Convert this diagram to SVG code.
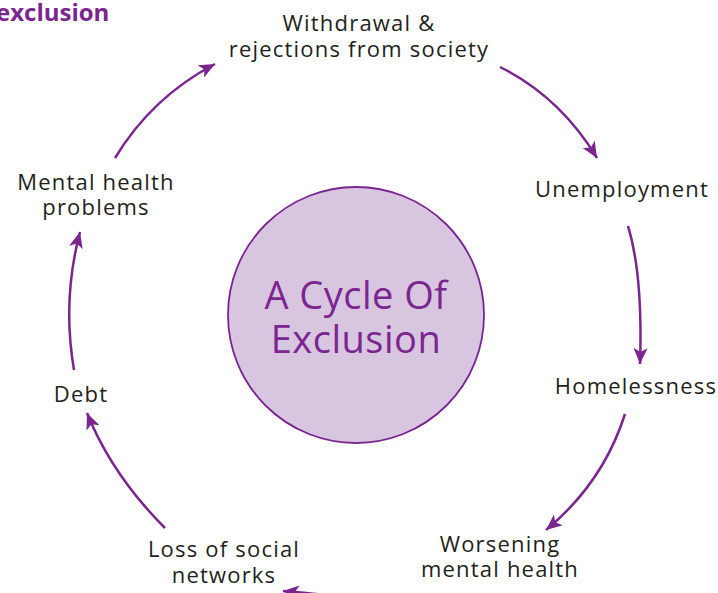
<svg xmlns="http://www.w3.org/2000/svg" width="718" height="593" viewBox="0 0 718 593">
  <defs>
    <style>
      .lbl { font-family: "Open Sans", "Noto Sans", "Liberation Sans", sans-serif; font-size: 22px; letter-spacing: 1.2px; fill: #231f20; text-anchor: middle; }
      .hub { font-family: "Open Sans", "Noto Sans", "Liberation Sans", sans-serif; font-size: 38px; letter-spacing: 0.5px; fill: #7b2590; text-anchor: middle; }
      .title { font-family: "Open Sans", "Noto Sans", "Liberation Sans", sans-serif; font-size: 24px; font-weight: bold; fill: #7b2590; }
      .arc { fill: none; stroke: #7b2590; stroke-width: 2.5; marker-end: url(#head); }
    </style>
    <marker id="head" markerUnits="userSpaceOnUse" markerWidth="20" markerHeight="16" refX="16" refY="7" orient="auto">
      <path d="M0,0 L16,7 L0,14 L4,7 Z" fill="#7b2590"/>
    </marker>
  </defs>

  <rect width="718" height="593" fill="#ffffff"/>

  <text class="title" x="-4" y="21">exclusion</text>

  <g id="hub">
    <circle cx="356" cy="315" r="128" fill="#d8c6e0" stroke="#7b2590" stroke-width="1.8"/>
    <text class="hub" x="356" y="309">A Cycle Of</text>
    <text class="hub" x="356" y="353">Exclusion</text>
  </g>

  <g id="withdrawal">
    <text class="lbl" x="359" y="31">Withdrawal &amp;</text>
    <text class="lbl" x="359" y="57">rejections from society</text>
  </g>
  <g id="unemployment">
    <text class="lbl" x="622" y="197">Unemployment</text>
  </g>
  <g id="homelessness">
    <text class="lbl" x="636" y="394">Homelessness</text>
  </g>
  <g id="worsening">
    <text class="lbl" x="500" y="552">Worsening</text>
    <text class="lbl" x="500" y="577">mental health</text>
  </g>
  <g id="loss">
    <text class="lbl" x="224" y="557">Loss of social</text>
    <text class="lbl" x="224" y="583">networks</text>
  </g>
  <g id="debt">
    <text class="lbl" x="81" y="402">Debt</text>
  </g>
  <g id="mental">
    <text class="lbl" x="96" y="190">Mental health</text>
    <text class="lbl" x="96" y="215">problems</text>
  </g>

  <g id="connectors">
    <path class="arc" d="M115,158 Q152,97 215,64"/>
    <path class="arc" d="M500,67 Q560,97 597,158"/>
    <path class="arc" d="M628,226 Q643,275 640,364"/>
    <path class="arc" d="M625,414 Q603,483 546,530"/>
    <path class="arc" d="M430,605 Q360,598 283,591"/>
    <path class="arc" d="M165,528 Q112,475 87,413"/>
    <path class="arc" d="M74,370 Q62,300 80,232"/>
  </g>
</svg>
